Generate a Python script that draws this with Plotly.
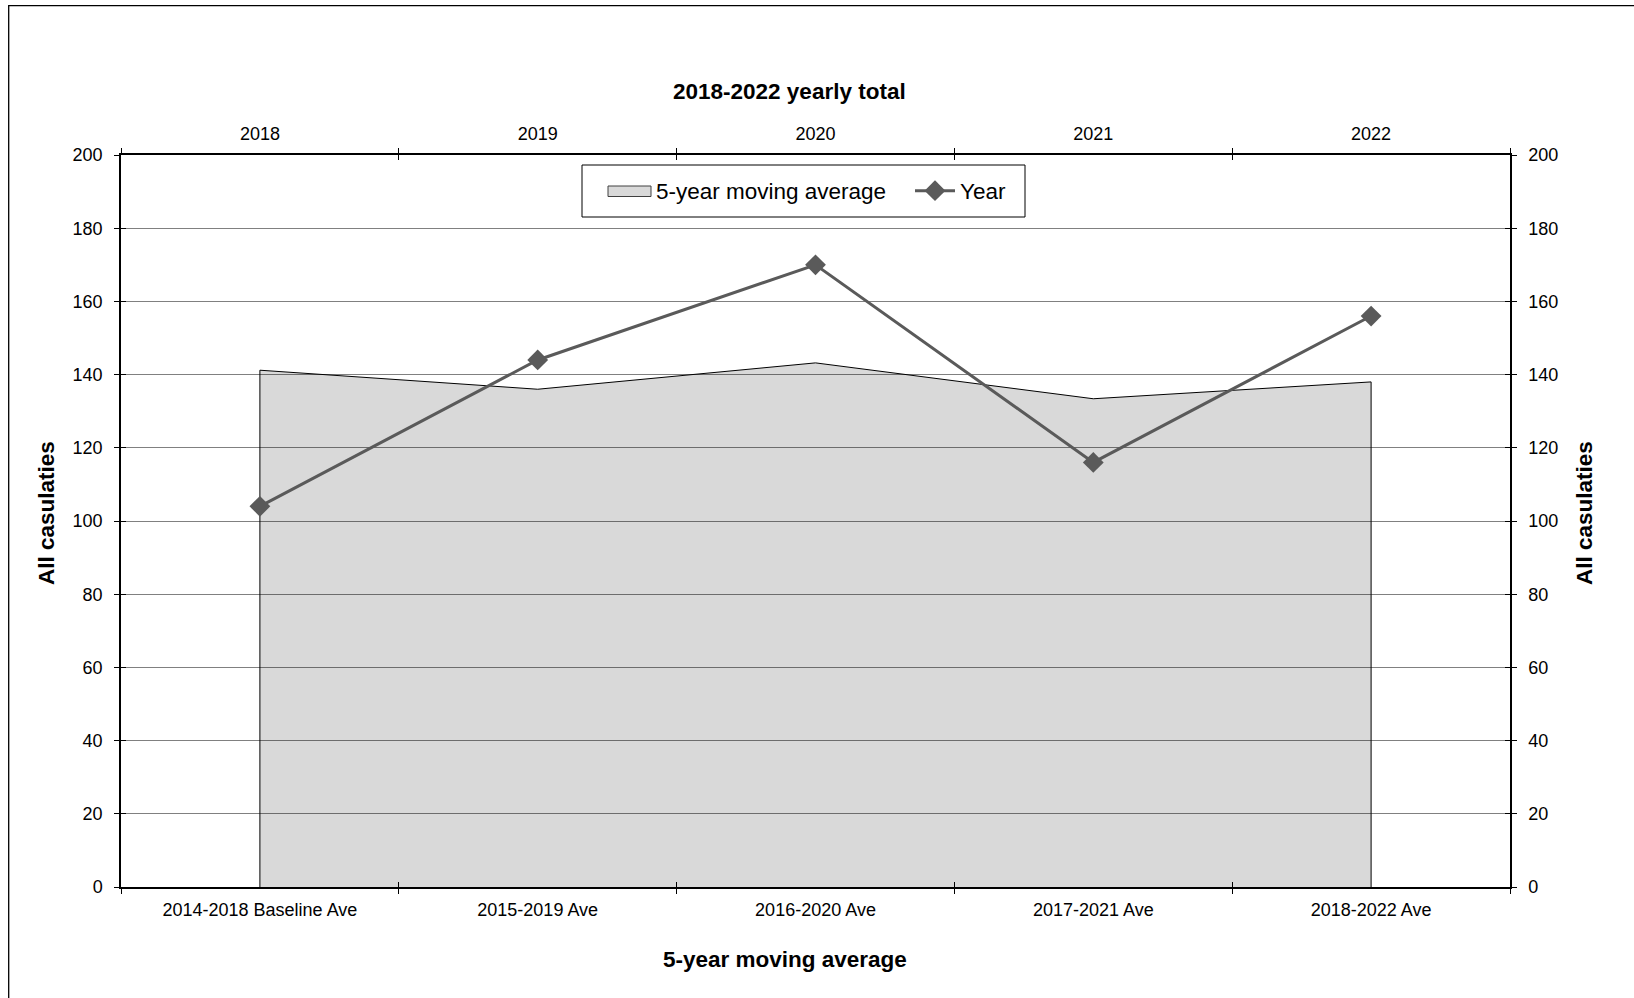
import plotly.graph_objects as go

# ---- data ----
avg_categories = ["2014-2018 Baseline Ave", "2015-2019 Ave", "2016-2020 Ave", "2017-2021 Ave", "2018-2022 Ave"]
year_categories = ["2018", "2019", "2020", "2021", "2022"]
moving_average = [141.2, 136.0, 143.2, 133.4, 138.0]
yearly_total = [104, 144, 170, 116, 156]
y_ticks = [0, 20, 40, 60, 80, 100, 120, 140, 160, 180, 200]

FONT = "Liberation Sans, Arial, sans-serif"
W, H = 1634, 998
L, R, T, B = 121, 124, 155, 111
pw, ph = W - L - R, H - T - B


def px_x(x):
    return (x - L) / pw


def px_y(y):
    return (H - B - y) / ph


fig = go.Figure()

# area (closed polygon so the vertical edges are outlined, like the original)
fig.add_trace(go.Scatter(
    x=[avg_categories[0]] + avg_categories + [avg_categories[-1]],
    y=[0] + moving_average + [0],
    fill="toself", mode="lines",
    fillcolor="rgba(0,0,0,0.15)",
    line=dict(color="#000000", width=1),
    name="5-year moving average", showlegend=False,
    xaxis="x", yaxis="y", hoverinfo="skip",
))
# legend entry for the area (swatch drawn as a shape below)
fig.add_trace(go.Scatter(
    x=[None], y=[None], fill="toself", mode="lines",
    fillcolor="rgba(0,0,0,0)", line=dict(color="rgba(0,0,0,0)", width=0),
    name="5-year moving average", xaxis="x", yaxis="y", hoverinfo="skip",
))

# yearly line
fig.add_trace(go.Scatter(
    x=year_categories, y=yearly_total,
    mode="lines+markers",
    line=dict(color="#5a5a5a", width=3),
    marker=dict(symbol="diamond", size=16, color="#5a5a5a"),
    name="Year",
    xaxis="x2", yaxis="y2",
))

# invisible helpers for the inner halves of the crossing ticks
boundaries = [i - 0.5 for i in range(len(avg_categories) + 1)]
fig.add_trace(go.Scatter(x=[0], y=[0], mode="none", xaxis="x3", yaxis="y3",
                         showlegend=False, hoverinfo="skip"))
fig.add_trace(go.Scatter(x=[0], y=[0], mode="none", xaxis="x4", yaxis="y4",
                         showlegend=False, hoverinfo="skip"))

tickfont = dict(family=FONT, size=18, color="#000000")
axis_common = dict(showline=True, linecolor="#000000", linewidth=1.5,
                   ticks="outside", ticklen=5, tickcolor="#000000", tickwidth=1,
                   tickfont=tickfont, zeroline=False, layer="above traces")
inner_common = dict(showline=False, ticks="inside", ticklen=5, tickcolor="#000000",
                    tickwidth=1, showticklabels=False, showgrid=False, zeroline=False,
                    layer="above traces")

fig.update_layout(
    width=W, height=H,
    margin=dict(l=L, r=R, t=T, b=B, pad=0),
    paper_bgcolor="#ffffff", plot_bgcolor="#ffffff",
    font=dict(family=FONT, color="#000000"),
    showlegend=True,
    legend=dict(orientation="h", x=px_x(606), y=px_y(191), xanchor="left", yanchor="middle",
                borderwidth=0, bgcolor="rgba(0,0,0,0)",
                font=dict(family=FONT, size=22.5, color="#000000"),
                itemwidth=40, tracegroupgap=0, entrywidth=249, entrywidthmode="pixels"),
    xaxis=dict(type="category", categoryorder="array", categoryarray=avg_categories,
               range=[-0.5, len(avg_categories) - 0.5], tickson="boundaries",
               side="bottom", anchor="y", showgrid=False, ticklabelstandoff=6, **axis_common),
    xaxis2=dict(type="category", categoryorder="array", categoryarray=year_categories,
                range=[-0.5, len(year_categories) - 0.5], tickson="boundaries",
                side="top", overlaying="x", anchor="y", showgrid=False, ticklabelstandoff=6,
                **axis_common),
    yaxis=dict(range=[0, 200], tickvals=y_ticks, side="left", anchor="x",
               showgrid=True, gridcolor="#808080", gridwidth=1, ticklabelstandoff=8,
               **axis_common),
    yaxis2=dict(range=[0, 200], tickvals=y_ticks, side="right", overlaying="y", anchor="x",
                showgrid=False, ticklabelstandoff=8, **axis_common),
    xaxis3=dict(range=[-0.5, len(avg_categories) - 0.5], tickvals=boundaries,
                side="bottom", overlaying="x", anchor="y", **inner_common),
    xaxis4=dict(range=[-0.5, len(year_categories) - 0.5], tickvals=boundaries,
                side="top", overlaying="x", anchor="y", **inner_common),
    yaxis3=dict(range=[0, 200], tickvals=y_ticks, side="left", overlaying="y",
                anchor="x", **inner_common),
    yaxis4=dict(range=[0, 200], tickvals=y_ticks, side="right", overlaying="y",
                anchor="x", **inner_common),
)

# legend frame
fig.add_shape(type="rect", xref="paper", yref="paper",
              x0=px_x(582), x1=px_x(1025), y0=px_y(217), y1=px_y(165),
              line=dict(color="#000000", width=1), fillcolor="#ffffff", layer="above")
# legend swatch for the area series
fig.add_shape(type="rect", xref="paper", yref="paper",
              x0=px_x(608), x1=px_x(651), y0=px_y(196.5), y1=px_y(186),
              line=dict(color="#404040", width=1), fillcolor="#d9d9d9", layer="above")

title_font = dict(family=FONT, size=22.5, color="#000000")
fig.add_annotation(text="<b>2018-2022 yearly total</b>", xref="paper", yref="paper",
                   x=px_x(789), y=px_y(91.5), xanchor="center", yanchor="middle",
                   showarrow=False, font=title_font)
fig.add_annotation(text="<b>5-year moving average</b>", xref="paper", yref="paper",
                   x=px_x(785), y=px_y(959), xanchor="center", yanchor="middle",
                   showarrow=False, font=title_font)
fig.add_annotation(text="<b>All casulaties</b>", xref="paper", yref="paper",
                   x=px_x(46), y=px_y(513), xanchor="center", yanchor="middle",
                   textangle=-90, showarrow=False, font=title_font)
fig.add_annotation(text="<b>All casulaties</b>", xref="paper", yref="paper",
                   x=px_x(1584), y=px_y(513), xanchor="center", yanchor="middle",
                   textangle=-90, showarrow=False, font=title_font)

# outer chart border (extends past the right/bottom edges, as in the original)
fig.add_shape(type="rect", xref="paper", yref="paper",
              x0=px_x(8.7), y0=px_y(1010), x1=px_x(1645), y1=px_y(5.7),
              line=dict(color="#000000", width=1.3), fillcolor="rgba(0,0,0,0)", layer="above")

fig.write_html("out.html")
